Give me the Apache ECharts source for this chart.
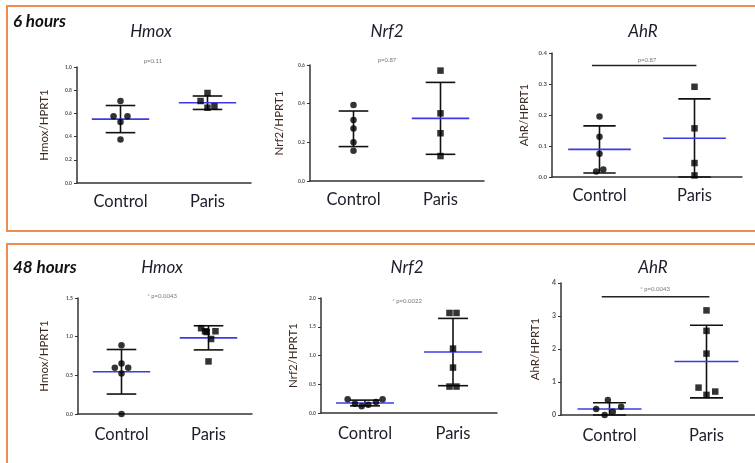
<!DOCTYPE html>
<html><head><meta charset="utf-8">
<script src="https://cdn.jsdelivr.net/npm/echarts@6/dist/echarts.min.js"></script>
<style>html,body{margin:0;padding:0;background:#fff}#c{width:755px;height:463px}</style>
</head><body><div id="c"></div>
<script>
const categories = ['Control', 'Paris'];

// ---- 6 hours ----
const h6HmoxCtrl = [0.707, 0.575, 0.575, 0.526, 0.374];
const h6HmoxCtrlJit = [0, -0.08, 0.08, 0, 0];
const h6HmoxParis = [0.776, 0.707, 0.649, 0.661];
const h6HmoxParisJit = [0, -0.08, 0, 0.08];
const h6HmoxMean = [0.551, 0.692];
const h6HmoxSd = [0.117, 0.058];

const h6Nrf2Ctrl = [0.393, 0.316, 0.272, 0.200, 0.157];
const h6Nrf2CtrlJit = [0, 0, 0, 0, 0];
const h6Nrf2Paris = [0.571, 0.350, 0.247, 0.129];
const h6Nrf2ParisJit = [0, 0, 0, 0];
const h6Nrf2Mean = [0.270, 0.324];
const h6Nrf2Sd = [0.092, 0.186];

const h6AhrCtrl = [0.195, 0.130, 0.075, 0.018, 0.024];
const h6AhrCtrlJit = [0, 0, 0, -0.035, 0.04];
const h6AhrParis = [0.291, 0.157, 0.045, 0.005];
const h6AhrParisJit = [0, 0, 0, 0];
const h6AhrMean = [0.089, 0.125];
const h6AhrSd = [0.076, 0.127];

// ---- 48 hours ----
const h48HmoxCtrl = [0.89, 0.653, 0.597, 0.597, 0.524, 0.0];
const h48HmoxCtrlJit = [0, 0, -0.077, 0.077, 0, 0];
const h48HmoxParis = [1.11, 1.07, 1.07, 1.06, 0.97, 0.68];
const h48HmoxParisJit = [-0.085, -0.04, 0.08, -0.02, 0.03, 0];
const h48HmoxMean = [0.546, 0.985];
const h48HmoxSd = [0.288, 0.156];

const h48Nrf2Ctrl = [0.238, 0.162, 0.116, 0.145, 0.191, 0.238];
const h48Nrf2CtrlJit = [-0.197, -0.114, -0.038, 0.038, 0.125, 0.2];
const h48Nrf2Paris = [1.74, 1.74, 1.12, 0.79, 0.46, 0.46];
const h48Nrf2ParisJit = [-0.04, 0.04, 0, 0, -0.04, 0.04];
const h48Nrf2Mean = [0.174, 1.06];
const h48Nrf2Sd = [0.05, 0.585];

const h48AhrCtrl = [0.456, 0.253, 0.18, 0.10, 0.0];
const h48AhrCtrlJit = [-0.017, 0.12, -0.137, 0.034, -0.05];
const h48AhrParis = [3.17, 2.55, 1.86, 0.83, 0.71, 0.61];
const h48AhrParisJit = [0, 0, 0, -0.082, 0.09, 0];
const h48AhrMean = [0.18, 1.62];
const h48AhrSd = [0.19, 1.10];

// axis ranges [min, max, interval]
const yRanges = [[0, 1.0, 0.2], [0, 0.6, 0.2], [0, 0.4, 0.1], [0, 1.5, 0.5], [0, 2.0, 0.5], [0, 4, 1]];
const yNames = ['Hmox/HPRT1', 'Nrf2/HPRT1', 'AhR/HPRT1', 'Hmox/HPRT1', 'Nrf2/HPRT1', 'AhR/HPRT1'];
const panelTitles = ['Hmox', 'Nrf2', 'AhR', 'Hmox', 'Nrf2', 'AhR'];
const pTexts = ['p=0.11', 'p=0.87', 'p=0.87', '* p=0.0043', '* p=0.0022', '* p=0.0043'];
const rowLabels = ['6 hours', '48 hours'];
// significance brackets: [x from, x to, y] (AhR panels)
const h6AhrBracket = [0.92, 2.02, 0.36];
const h48AhrBracket = [0.92, 2.03, 3.58];

const panels = [
  {ctrl: h6HmoxCtrl, cj: h6HmoxCtrlJit, paris: h6HmoxParis, pj: h6HmoxParisJit, mean: h6HmoxMean, sd: h6HmoxSd, showMean: [true, true]},
  {ctrl: h6Nrf2Ctrl, cj: h6Nrf2CtrlJit, paris: h6Nrf2Paris, pj: h6Nrf2ParisJit, mean: h6Nrf2Mean, sd: h6Nrf2Sd, showMean: [false, true]},
  {ctrl: h6AhrCtrl, cj: h6AhrCtrlJit, paris: h6AhrParis, pj: h6AhrParisJit, mean: h6AhrMean, sd: h6AhrSd, showMean: [true, true], bracket: h6AhrBracket},
  {ctrl: h48HmoxCtrl, cj: h48HmoxCtrlJit, paris: h48HmoxParis, pj: h48HmoxParisJit, mean: h48HmoxMean, sd: h48HmoxSd, showMean: [true, true]},
  {ctrl: h48Nrf2Ctrl, cj: h48Nrf2CtrlJit, paris: h48Nrf2Paris, pj: h48Nrf2ParisJit, mean: h48Nrf2Mean, sd: h48Nrf2Sd, showMean: [true, true]},
  {ctrl: h48AhrCtrl, cj: h48AhrCtrlJit, paris: h48AhrParis, pj: h48AhrParisJit, mean: h48AhrMean, sd: h48AhrSd, showMean: [true, true], bracket: h48AhrBracket}
];

// layout (pixels)
const grids = [
  {left: 77, top: 67, width: 174, height: 116},
  {left: 310, top: 65, width: 174, height: 116},
  {left: 552, top: 53, width: 190, height: 124},
  {left: 78, top: 298, width: 174, height: 116},
  {left: 321, top: 298, width: 176, height: 115},
  {left: 561, top: 283, width: 194, height: 132}
];
const nameGaps = [27, 25, 22, 28, 22, 20];
const labelMargins = [10, 10, 10, 12, 12, 12];
const tickFont = [5, 5, 6, 5, 5, 7];
const titlePos = [[151, 32], [387, 32], [643, 32], [162, 268], [407, 268], [653, 268]];
const pPos = [[153, 61], [387, 60], [647, 60], [162, 296], [407, 301], [655, 289]];

const FONT = 'Lato, "Open Sans", sans-serif';
const ORANGE = '#ee8d4d';
const BLUE = '#3b3be6';
const MEAN_HALF = 0.33, CAP_HALF = 0.17;

const option = {
  backgroundColor: '#fff',
  animation: false,
  grid: grids.map(g => Object.assign({containLabel: false}, g)),
  xAxis: [],
  yAxis: [],
  series: [],
  graphic: []
};

panels.forEach((p, i) => {
  const [ymin, ymax, yint] = yRanges[i];
  const dec = yint < 1 ? 1 : 0;
  option.xAxis.push({
    type: 'category', gridIndex: i, data: categories, boundaryGap: true,
    axisLine: {lineStyle: {color: '#333', width: 1.5}},
    axisTick: {alignWithLabel: true, length: 3, lineStyle: {color: '#333'}},
    axisLabel: {color: '#1d1d2b', fontSize: 16.5, fontFamily: FONT, margin: labelMargins[i]},
    splitLine: {show: false}
  });
  option.xAxis.push({
    type: 'value', gridIndex: i, min: 0.5, max: 2.5, show: false
  });
  option.yAxis.push({
    type: 'value', gridIndex: i, min: ymin, max: ymax, interval: yint,
    name: yNames[i], nameLocation: 'middle', nameGap: nameGaps[i],
    nameTextStyle: {color: '#3d2a22', fontSize: 11.5, fontFamily: FONT},
    axisLine: {show: true, lineStyle: {color: '#333', width: 1.5}},
    axisTick: {show: true, length: 3, lineStyle: {color: '#333'}},
    axisLabel: {color: '#555', fontSize: tickFont[i], fontWeight: 'bold', fontFamily: FONT, margin: 5,
      formatter: v => v.toFixed(dec)},
    splitLine: {show: false}
  });
  const xIdx = i * 2 + 1;
  option.series.push({
    type: 'custom', xAxisIndex: xIdx, yAxisIndex: i, z: 2, silent: true,
    data: [[1, p.mean[0], p.sd[0]], [2, p.mean[1], p.sd[1]]],
    renderItem: (params, api) => {
      const x = api.value(0), m = api.value(1), s = api.value(2);
      const top = api.coord([x, m + s]);
      const bot = api.coord([x, Math.max(m - s, 0)]);
      const w = api.size([CAP_HALF, 0])[0];
      const st = {stroke: '#111', lineWidth: 1.6};
      return {type: 'group', children: [
        {type: 'line', shape: {x1: top[0], y1: top[1], x2: bot[0], y2: bot[1]}, style: st},
        {type: 'line', shape: {x1: top[0] - w, y1: top[1], x2: top[0] + w, y2: top[1]}, style: st},
        {type: 'line', shape: {x1: bot[0] - w, y1: bot[1], x2: bot[0] + w, y2: bot[1]}, style: st}
      ]};
    }
  });
  option.series.push({
    type: 'custom', xAxisIndex: xIdx, yAxisIndex: i, z: 3, silent: true,
    data: [[1, p.mean[0]], [2, p.mean[1]]].filter((d, k) => p.showMean[k]),
    renderItem: (params, api) => {
      const x = api.value(0), m = api.value(1);
      const a = api.coord([x - MEAN_HALF, m]);
      const b = api.coord([x + MEAN_HALF, m]);
      return {type: 'line', shape: {x1: a[0], y1: a[1], x2: b[0], y2: b[1]}, style: {stroke: BLUE, lineWidth: 1.6}};
    }
  });
  option.series.push({
    type: 'scatter', xAxisIndex: xIdx, yAxisIndex: i, z: 4, silent: true,
    symbol: 'circle', symbolSize: 6.5, itemStyle: {color: '#000'},
    data: p.ctrl.map((v, k) => [1 + p.cj[k], v])
  });
  option.series.push({
    type: 'scatter', xAxisIndex: xIdx, yAxisIndex: i, z: 4, silent: true,
    symbol: 'rect', symbolSize: 6.5, itemStyle: {color: '#000'},
    data: p.paris.map((v, k) => [2 + p.pj[k], v])
  });
  if (p.bracket) {
    option.series.push({
      type: 'line', xAxisIndex: xIdx, yAxisIndex: i, z: 3, silent: true,
      symbol: 'none', lineStyle: {color: '#222', width: 1.5},
      data: [[p.bracket[0], p.bracket[2]], [p.bracket[1], p.bracket[2]]]
    });
  }
  option.graphic.push({
    type: 'text', x: titlePos[i][0], y: titlePos[i][1], z: 10,
    style: {text: panelTitles[i], align: 'center', verticalAlign: 'middle',
      font: 'italic 17px ' + FONT, fill: '#1d1d2b'}
  });
  option.graphic.push({
    type: 'text', x: pPos[i][0], y: pPos[i][1], z: 10,
    style: {text: pTexts[i], align: 'center', verticalAlign: 'middle',
      font: '6px ' + FONT, fill: '#777'}
  });
});

option.graphic.push({
  type: 'rect', z: 0, shape: {x: 7, y: 6, width: 760, height: 225},
  style: {fill: 'none', stroke: ORANGE, lineWidth: 2}
});
option.graphic.push({
  type: 'rect', z: 0, shape: {x: 7, y: 244, width: 760, height: 240},
  style: {fill: 'none', stroke: ORANGE, lineWidth: 2}
});
option.graphic.push({
  type: 'text', x: 13, y: 22, z: 10,
  style: {text: rowLabels[0], align: 'left', verticalAlign: 'middle', font: 'italic bold 17px ' + FONT, fill: '#111'}
});
option.graphic.push({
  type: 'text', x: 13, y: 268, z: 10,
  style: {text: rowLabels[1], align: 'left', verticalAlign: 'middle', font: 'italic bold 17px ' + FONT, fill: '#111'}
});

const chart = echarts.init(document.getElementById('c'), null, {renderer: 'canvas'});
chart.setOption(option);
</script>
</body></html>
